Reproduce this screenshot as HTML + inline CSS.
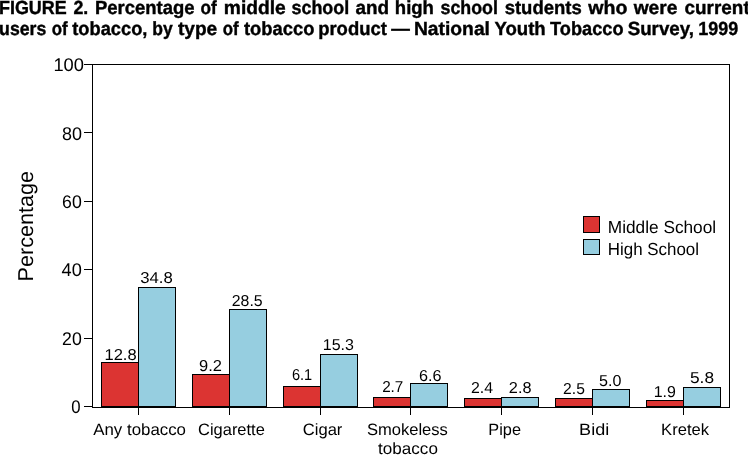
<!DOCTYPE html>
<html><head><meta charset="utf-8"><style>
html,body{margin:0;padding:0;background:#fff;width:748px;height:455px;overflow:hidden}
svg{display:block;will-change:transform}
text{font-family:"Liberation Sans",sans-serif;fill:#000;text-rendering:geometricPrecision}
.t{stroke:#000;stroke-width:0.4px}

</style></head><body>
<svg width="748" height="455" viewBox="0 0 748 455">
<g shape-rendering="crispEdges">
<path d="M92.5,64.5 H729.5 V407.5 H92.5 Z" fill="none" stroke="#000" stroke-width="1"/>
<path d="M84,64.5 H92" stroke="#000" stroke-width="1"/>
<path d="M84,132.5 H92" stroke="#000" stroke-width="1"/>
<path d="M84,201.5 H92" stroke="#000" stroke-width="1"/>
<path d="M84,269.5 H92" stroke="#000" stroke-width="1"/>
<path d="M84,338.5 H92" stroke="#000" stroke-width="1"/>
<path d="M84,406.5 H92" stroke="#000" stroke-width="1"/>
<rect x="101.5" y="362.5" width="37" height="44" fill="#dc3432" stroke="#000" stroke-width="1"/>
<rect x="138.5" y="287.5" width="37" height="119" fill="#96cee0" stroke="#000" stroke-width="1"/>
<path d="M138.5,407 V415" stroke="#000" stroke-width="1"/>
<rect x="192.5" y="374.5" width="37" height="32" fill="#dc3432" stroke="#000" stroke-width="1"/>
<rect x="229.5" y="309.5" width="37" height="97" fill="#96cee0" stroke="#000" stroke-width="1"/>
<path d="M229.5,407 V415" stroke="#000" stroke-width="1"/>
<rect x="283.5" y="386.5" width="37" height="20" fill="#dc3432" stroke="#000" stroke-width="1"/>
<rect x="320.5" y="354.5" width="37" height="52" fill="#96cee0" stroke="#000" stroke-width="1"/>
<path d="M320.5,407 V415" stroke="#000" stroke-width="1"/>
<rect x="373.5" y="397.5" width="37" height="9" fill="#dc3432" stroke="#000" stroke-width="1"/>
<rect x="410.5" y="383.5" width="37" height="23" fill="#96cee0" stroke="#000" stroke-width="1"/>
<path d="M410.5,407 V415" stroke="#000" stroke-width="1"/>
<rect x="464.5" y="398.5" width="37" height="8" fill="#dc3432" stroke="#000" stroke-width="1"/>
<rect x="501.5" y="397.5" width="37" height="9" fill="#96cee0" stroke="#000" stroke-width="1"/>
<path d="M501.5,407 V415" stroke="#000" stroke-width="1"/>
<rect x="555.5" y="398.5" width="37" height="8" fill="#dc3432" stroke="#000" stroke-width="1"/>
<rect x="592.5" y="389.5" width="37" height="17" fill="#96cee0" stroke="#000" stroke-width="1"/>
<path d="M592.5,407 V415" stroke="#000" stroke-width="1"/>
<rect x="646.5" y="400.5" width="37" height="6" fill="#dc3432" stroke="#000" stroke-width="1"/>
<rect x="683.5" y="387.5" width="37" height="19" fill="#96cee0" stroke="#000" stroke-width="1"/>
<path d="M683.5,407 V415" stroke="#000" stroke-width="1"/>
<rect x="583.5" y="216.5" width="16" height="16" fill="#dc3432" stroke="#000" stroke-width="1"/>
<rect x="583.5" y="239.5" width="16" height="15" fill="#96cee0" stroke="#000" stroke-width="1"/>
</g>
<text x="-1.00" y="13.60" font-size="19.00" font-weight="bold" textLength="67.70" lengthAdjust="spacingAndGlyphs" class="t">FIGURE</text>
<text x="73.48" y="13.60" font-size="19.00" font-weight="bold" textLength="14.84" lengthAdjust="spacingAndGlyphs" class="t">2.</text>
<text x="94.96" y="13.60" font-size="19.00" font-weight="bold" textLength="99.57" lengthAdjust="spacingAndGlyphs" class="t">Percentage</text>
<text x="200.43" y="13.60" font-size="19.00" font-weight="bold" textLength="16.24" lengthAdjust="spacingAndGlyphs" class="t">of</text>
<text x="223.83" y="13.60" font-size="19.00" font-weight="bold" textLength="61.92" lengthAdjust="spacingAndGlyphs" class="t">middle</text>
<text x="291.47" y="13.60" font-size="19.00" font-weight="bold" textLength="57.80" lengthAdjust="spacingAndGlyphs" class="t">school</text>
<text x="355.45" y="13.60" font-size="19.00" font-weight="bold" textLength="33.60" lengthAdjust="spacingAndGlyphs" class="t">and</text>
<text x="394.80" y="13.60" font-size="19.00" font-weight="bold" textLength="39.15" lengthAdjust="spacingAndGlyphs" class="t">high</text>
<text x="440.47" y="13.60" font-size="19.00" font-weight="bold" textLength="57.49" lengthAdjust="spacingAndGlyphs" class="t">school</text>
<text x="504.65" y="13.60" font-size="19.00" font-weight="bold" textLength="77.11" lengthAdjust="spacingAndGlyphs" class="t">students</text>
<text x="588.16" y="13.60" font-size="19.00" font-weight="bold" textLength="39.21" lengthAdjust="spacingAndGlyphs" class="t">who</text>
<text x="633.66" y="13.60" font-size="19.00" font-weight="bold" textLength="43.70" lengthAdjust="spacingAndGlyphs" class="t">were</text>
<text x="684.56" y="13.60" font-size="19.00" font-weight="bold" textLength="65.17" lengthAdjust="spacingAndGlyphs" class="t">current</text>
<text x="-0.89" y="35.10" font-size="19.00" font-weight="bold" textLength="47.12" lengthAdjust="spacingAndGlyphs" class="t">users</text>
<text x="51.64" y="35.10" font-size="19.00" font-weight="bold" textLength="15.93" lengthAdjust="spacingAndGlyphs" class="t">of</text>
<text x="72.28" y="35.10" font-size="19.00" font-weight="bold" textLength="75.15" lengthAdjust="spacingAndGlyphs" class="t">tobacco,</text>
<text x="152.24" y="35.10" font-size="19.00" font-weight="bold" textLength="20.45" lengthAdjust="spacingAndGlyphs" class="t">by</text>
<text x="177.97" y="35.10" font-size="19.00" font-weight="bold" textLength="39.29" lengthAdjust="spacingAndGlyphs" class="t">type</text>
<text x="222.64" y="35.10" font-size="19.00" font-weight="bold" textLength="15.93" lengthAdjust="spacingAndGlyphs" class="t">of</text>
<text x="243.98" y="35.10" font-size="19.00" font-weight="bold" textLength="70.44" lengthAdjust="spacingAndGlyphs" class="t">tobacco</text>
<text x="318.18" y="35.10" font-size="19.00" font-weight="bold" textLength="68.64" lengthAdjust="spacingAndGlyphs" class="t">product</text>
<text x="391.20" y="35.10" font-size="19.00" font-weight="bold" textLength="18.60" lengthAdjust="spacingAndGlyphs" class="t">—</text>
<text x="413.91" y="35.10" font-size="19.00" font-weight="bold" textLength="76.05" lengthAdjust="spacingAndGlyphs" class="t">National</text>
<text x="494.39" y="35.10" font-size="19.00" font-weight="bold" textLength="51.33" lengthAdjust="spacingAndGlyphs" class="t">Youth</text>
<text x="550.10" y="35.10" font-size="19.00" font-weight="bold" textLength="73.40" lengthAdjust="spacingAndGlyphs" class="t">Tobacco</text>
<text x="627.67" y="35.10" font-size="19.00" font-weight="bold" textLength="66.36" lengthAdjust="spacingAndGlyphs" class="t">Survey,</text>
<text x="698.17" y="35.10" font-size="19.00" font-weight="bold" textLength="40.00" lengthAdjust="spacingAndGlyphs" class="t">1999</text>
<text x="53.41" y="71.00" font-size="18.40" font-weight="normal" textLength="30.51" lengthAdjust="spacingAndGlyphs">100</text>
<text x="61.92" y="140.00" font-size="18.40" font-weight="normal" textLength="19.98" lengthAdjust="spacingAndGlyphs">80</text>
<text x="62.10" y="207.90" font-size="18.40" font-weight="normal" textLength="19.69" lengthAdjust="spacingAndGlyphs">60</text>
<text x="61.58" y="275.90" font-size="18.40" font-weight="normal" textLength="20.23" lengthAdjust="spacingAndGlyphs">40</text>
<text x="62.11" y="344.80" font-size="18.40" font-weight="normal" textLength="19.68" lengthAdjust="spacingAndGlyphs">20</text>
<text x="71.35" y="413.00" font-size="18.40" font-weight="normal" textLength="9.31" lengthAdjust="spacingAndGlyphs">0</text>
<text x="104.44" y="360.00" font-size="15.80" font-weight="normal" textLength="32.18" lengthAdjust="spacingAndGlyphs">12.8</text>
<text x="140.26" y="283.00" font-size="15.80" font-weight="normal" textLength="32.56" lengthAdjust="spacingAndGlyphs">34.8</text>
<text x="199.03" y="371.00" font-size="15.80" font-weight="normal" textLength="22.90" lengthAdjust="spacingAndGlyphs">9.2</text>
<text x="231.80" y="306.00" font-size="15.80" font-weight="normal" textLength="30.86" lengthAdjust="spacingAndGlyphs">28.5</text>
<text x="291.96" y="380.00" font-size="15.80" font-weight="normal" textLength="20.25" lengthAdjust="spacingAndGlyphs">6.1</text>
<text x="322.78" y="350.00" font-size="15.80" font-weight="normal" textLength="31.12" lengthAdjust="spacingAndGlyphs">15.3</text>
<text x="382.13" y="392.00" font-size="15.80" font-weight="normal" textLength="21.24" lengthAdjust="spacingAndGlyphs">2.7</text>
<text x="418.98" y="381.00" font-size="15.80" font-weight="normal" textLength="22.54" lengthAdjust="spacingAndGlyphs">6.6</text>
<text x="471.00" y="393.00" font-size="15.80" font-weight="normal" textLength="22.06" lengthAdjust="spacingAndGlyphs">2.4</text>
<text x="508.88" y="393.00" font-size="15.80" font-weight="normal" textLength="22.63" lengthAdjust="spacingAndGlyphs">2.8</text>
<text x="563.11" y="394.00" font-size="15.80" font-weight="normal" textLength="21.74" lengthAdjust="spacingAndGlyphs">2.5</text>
<text x="599.06" y="386.00" font-size="15.80" font-weight="normal" textLength="22.37" lengthAdjust="spacingAndGlyphs">5.0</text>
<text x="653.69" y="397.00" font-size="15.80" font-weight="normal" textLength="22.17" lengthAdjust="spacingAndGlyphs">1.9</text>
<text x="690.01" y="383.00" font-size="15.80" font-weight="normal" textLength="24.04" lengthAdjust="spacingAndGlyphs">5.8</text>
<text x="93.27" y="435.30" font-size="16.40" font-weight="normal" textLength="92.74" lengthAdjust="spacingAndGlyphs">Any tobacco</text>
<text x="198.06" y="435.30" font-size="16.40" font-weight="normal" textLength="66.77" lengthAdjust="spacingAndGlyphs">Cigarette</text>
<text x="302.76" y="435.30" font-size="16.40" font-weight="normal" textLength="39.62" lengthAdjust="spacingAndGlyphs">Cigar</text>
<text x="366.95" y="435.30" font-size="16.40" font-weight="normal" textLength="80.95" lengthAdjust="spacingAndGlyphs">Smokeless</text>
<text x="378.14" y="454.40" font-size="16.40" font-weight="normal" textLength="59.78" lengthAdjust="spacingAndGlyphs">tobacco</text>
<text x="488.36" y="435.30" font-size="16.40" font-weight="normal" textLength="32.66" lengthAdjust="spacingAndGlyphs">Pipe</text>
<text x="579.12" y="435.30" font-size="16.40" font-weight="normal" textLength="30.10" lengthAdjust="spacingAndGlyphs">Bidi</text>
<text x="661.14" y="435.30" font-size="16.40" font-weight="normal" textLength="47.83" lengthAdjust="spacingAndGlyphs">Kretek</text>
<text x="607.78" y="233.10" font-size="17.40" font-weight="normal" textLength="108.37" lengthAdjust="spacingAndGlyphs">Middle School</text>
<text x="607.81" y="254.60" font-size="17.40" font-weight="normal" textLength="91.22" lengthAdjust="spacingAndGlyphs">High School</text>
<g transform="translate(33,279.7) rotate(-90)"><text x="-1.77" y="0.00" font-size="21.50" font-weight="normal" textLength="110.53" lengthAdjust="spacingAndGlyphs">Percentage</text></g>
</svg>
</body></html>
